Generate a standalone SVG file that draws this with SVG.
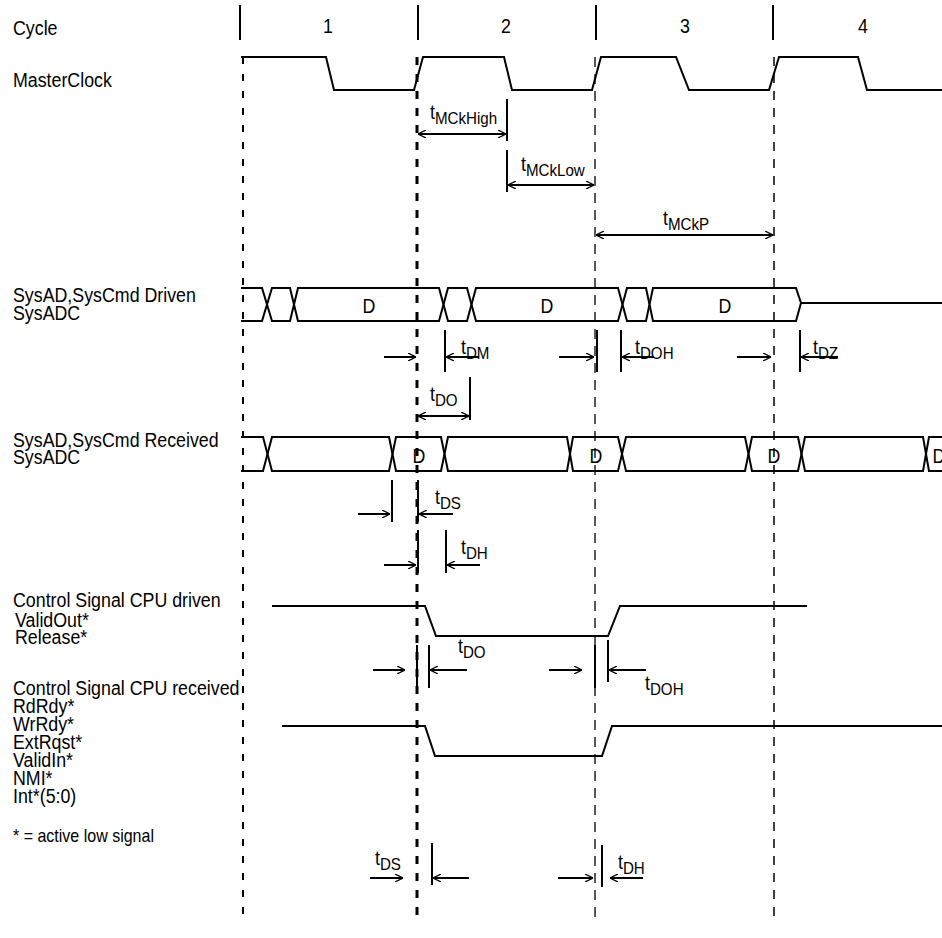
<svg xmlns="http://www.w3.org/2000/svg" width="942" height="938" viewBox="0 0 942 938">
<style>
text{font-family:"Liberation Sans",Arial,sans-serif;fill:#000}
.lb{font-size:20px}
.fn{font-size:18px}
.num{font-size:20px;text-anchor:middle}
.s{font-size:17px}
.w{fill:none;stroke:#000;stroke-width:2;stroke-linejoin:miter}
.tk{stroke:#000;stroke-width:2}
.ar{stroke:#000;stroke-width:2;fill:none;marker-end:url(#ah)}
.da{stroke:#000;stroke-width:2;fill:none;marker-start:url(#ah);marker-end:url(#ah)}
</style>
<defs>
<marker id="ah" viewBox="0 0 10 10" refX="10" refY="5" markerWidth="8" markerHeight="8" orient="auto-start-reverse" markerUnits="userSpaceOnUse">
<path d="M0,0 L10,5 L0,10" fill="none" stroke="#000" stroke-width="1.6"/>
</marker>
</defs>
<rect width="942" height="938" fill="#fff"/>

<g id="labels">
<text class="lb" transform="translate(13,35) scale(0.89 1)">Cycle</text>
<text class="lb" transform="translate(13,87) scale(0.89 1)">MasterClock</text>
<text class="lb" transform="translate(13,302) scale(0.89 1)">SysAD,SysCmd Driven</text>
<text class="lb" transform="translate(13,320) scale(0.89 1)">SysADC</text>
<text class="lb" transform="translate(13,447) scale(0.89 1)">SysAD,SysCmd Received</text>
<text class="lb" transform="translate(13,464) scale(0.89 1)">SysADC</text>
<text class="lb" transform="translate(13,607) scale(0.89 1)">Control Signal CPU driven</text>
<text class="lb" transform="translate(15,627) scale(0.89 1)">ValidOut*</text>
<text class="lb" transform="translate(15,644) scale(0.89 1)">Release*</text>
<text class="lb" transform="translate(13,695) scale(0.89 1)">Control Signal CPU received</text>
<text class="lb" transform="translate(13,713) scale(0.89 1)">RdRdy*</text>
<text class="lb" transform="translate(13,731) scale(0.89 1)">WrRdy*</text>
<text class="lb" transform="translate(13,749) scale(0.89 1)">ExtRqst*</text>
<text class="lb" transform="translate(13,767) scale(0.89 1)">ValidIn*</text>
<text class="lb" transform="translate(13,785) scale(0.89 1)">NMI*</text>
<text class="lb" transform="translate(13,803) scale(0.89 1)">Int*(5:0)</text>
<text class="fn" transform="translate(13,842) scale(0.89 1)">* = active low signal</text>
</g>

<g id="cycles">
<line class="tk" x1="240" y1="5" x2="240" y2="40"/>
<line class="tk" x1="418" y1="5" x2="418" y2="40"/>
<line class="tk" x1="596" y1="5" x2="596" y2="40"/>
<line class="tk" x1="773" y1="5" x2="773" y2="40"/>
<text class="num" transform="translate(328,33) scale(0.89 1)">1</text>
<text class="num" transform="translate(506,33) scale(0.89 1)">2</text>
<text class="num" transform="translate(685,33) scale(0.89 1)">3</text>
<text class="num" transform="translate(863,33) scale(0.89 1)">4</text>
</g>

<g id="gridlines" fill="none" stroke="#000">
<line x1="243" y1="57" x2="243" y2="918" stroke-width="2" stroke-dasharray="7 10"/>
<line x1="417" y1="57" x2="417" y2="918" stroke-width="3" stroke-dasharray="8 9"/>
<line x1="595" y1="57" x2="595" y2="918" stroke-width="1.3" stroke-dasharray="10 7"/>
<line x1="774" y1="57" x2="774" y2="918" stroke-width="1.5" stroke-dasharray="9 8"/>
</g>

<g id="masterclock">
<path class="w" d="M241,57 H326 L334,90 H414 L423,57 H504 L512,90 H592 L601,57 H676 L689,90 H769 L779,57 H858 L867,90 H942"/>
</g>

<g id="sysad-driven">
<path class="w" d="M241,288 H262 L272,321 H290 L298,288 H439 L448,321 H467 L476,288 H618 L627,321 H646 L653,288 H796 L801,303"/>
<path class="w" d="M241,321 H262 L272,288 H290 L298,321 H439 L448,288 H467 L476,321 H618 L627,288 H646 L653,321 H796 L801,303 H942"/>
<text class="num" transform="translate(369,313) scale(0.89 1)">D</text>
<text class="num" transform="translate(547,313) scale(0.89 1)">D</text>
<text class="num" transform="translate(725,313) scale(0.89 1)">D</text>
</g>

<g id="sysad-received">
<path class="w" d="M241,437 H263 L272,471 H389 L396,437 H441 L448,471 H567 L573,437 H618 L626,471 H745 L752,437 H798 L805,471 H923 L929,437 H942"/>
<path class="w" d="M241,471 H263 L272,437 H389 L396,471 H441 L448,437 H567 L573,471 H618 L626,437 H745 L752,471 H798 L805,437 H923 L929,471 H942"/>
<text class="num" transform="translate(419,463) scale(0.89 1)">D</text>
<text class="num" transform="translate(596,463) scale(0.89 1)">D</text>
<text class="num" transform="translate(774,463) scale(0.89 1)">D</text>
<text class="num" transform="translate(939,463) scale(0.89 1)">D</text>
</g>

<g id="control-driven">
<path class="w" d="M272,606 H425 L436,636 H608 L620,606 H807"/>
</g>

<g id="control-received">
<path class="w" d="M282,726 H425 L435,756 H602 L612,726 H942"/>
</g>

<g id="connectors">
<line class="tk" x1="507" y1="99" x2="507" y2="141"/>
<line class="da" x1="418" y1="134" x2="506" y2="134"/>
<line class="tk" x1="507" y1="150" x2="507" y2="192"/>
<line class="da" x1="508" y1="185" x2="594" y2="185"/>
<line class="da" x1="596" y1="235" x2="773" y2="235"/>

<line class="ar" x1="384" y1="357" x2="416" y2="357"/>
<line class="tk" x1="445" y1="330" x2="445" y2="372"/>
<line class="ar" x1="479" y1="357" x2="446" y2="357"/>
<line class="ar" x1="559" y1="357" x2="594" y2="357"/>
<line class="tk" x1="597" y1="330" x2="597" y2="372"/>
<line class="tk" x1="621" y1="330" x2="621" y2="372"/>
<line class="ar" x1="654" y1="357" x2="622" y2="357"/>
<line class="ar" x1="737" y1="357" x2="771" y2="357"/>
<line class="tk" x1="800" y1="330" x2="800" y2="372"/>
<line class="ar" x1="838" y1="357" x2="801" y2="357"/>

<line class="tk" x1="470" y1="377" x2="470" y2="420"/>
<line class="da" x1="418" y1="416" x2="469" y2="416"/>

<line class="ar" x1="358" y1="514" x2="390" y2="514"/>
<line class="tk" x1="392" y1="480" x2="392" y2="522"/>
<line class="tk" x1="418" y1="480" x2="418" y2="522"/>
<line class="ar" x1="453" y1="514" x2="419" y2="514"/>

<line class="ar" x1="384" y1="565" x2="416" y2="565"/>
<line class="tk" x1="418" y1="530" x2="418" y2="573"/>
<line class="tk" x1="446" y1="530" x2="446" y2="573"/>
<line class="ar" x1="480" y1="565" x2="447" y2="565"/>

<line class="ar" x1="373" y1="670" x2="405" y2="670"/>
<line class="tk" x1="417" y1="645" x2="417" y2="688"/>
<line class="tk" x1="429" y1="645" x2="429" y2="688"/>
<line class="ar" x1="467" y1="670" x2="430" y2="670"/>
<line class="ar" x1="549" y1="670" x2="582" y2="670"/>
<line class="tk" x1="595" y1="645" x2="595" y2="688"/>
<line class="tk" x1="608" y1="640" x2="608" y2="682"/>
<line class="ar" x1="646" y1="670" x2="609" y2="670"/>

<line class="ar" x1="370" y1="878" x2="403" y2="878"/>
<line class="tk" x1="432" y1="843" x2="432" y2="885"/>
<line class="ar" x1="469" y1="878" x2="433" y2="878"/>
<line class="ar" x1="558" y1="878" x2="593" y2="878"/>
<line class="tk" x1="602" y1="845" x2="602" y2="887"/>
<line class="ar" x1="643" y1="878" x2="610" y2="878"/>
</g>

<g id="timing-labels">
<text class="lb" transform="translate(430,119) scale(0.89 1)">t<tspan class="s" dy="5">MCkHigh</tspan></text>
<text class="lb" transform="translate(521,171) scale(0.89 1)">t<tspan class="s" dy="5">MCkLow</tspan></text>
<text class="lb" transform="translate(663,225) scale(0.89 1)">t<tspan class="s" dy="5">MCkP</tspan></text>
<text class="lb" transform="translate(461,354) scale(0.89 1)">t<tspan class="s" dy="5">DM</tspan></text>
<text class="lb" transform="translate(635,354) scale(0.89 1)">t<tspan class="s" dy="5">DOH</tspan></text>
<text class="lb" transform="translate(813,354) scale(0.89 1)">t<tspan class="s" dy="5">DZ</tspan></text>
<text class="lb" transform="translate(430,401) scale(0.89 1)">t<tspan class="s" dy="5">DO</tspan></text>
<text class="lb" transform="translate(435,504) scale(0.89 1)">t<tspan class="s" dy="5">DS</tspan></text>
<text class="lb" transform="translate(461,554) scale(0.89 1)">t<tspan class="s" dy="5">DH</tspan></text>
<text class="lb" transform="translate(458,653) scale(0.89 1)">t<tspan class="s" dy="5">DO</tspan></text>
<text class="lb" transform="translate(645,690) scale(0.89 1)">t<tspan class="s" dy="5">DOH</tspan></text>
<text class="lb" transform="translate(375,865) scale(0.89 1)">t<tspan class="s" dy="5">DS</tspan></text>
<text class="lb" transform="translate(618,869) scale(0.89 1)">t<tspan class="s" dy="5">DH</tspan></text>
</g>
</svg>
